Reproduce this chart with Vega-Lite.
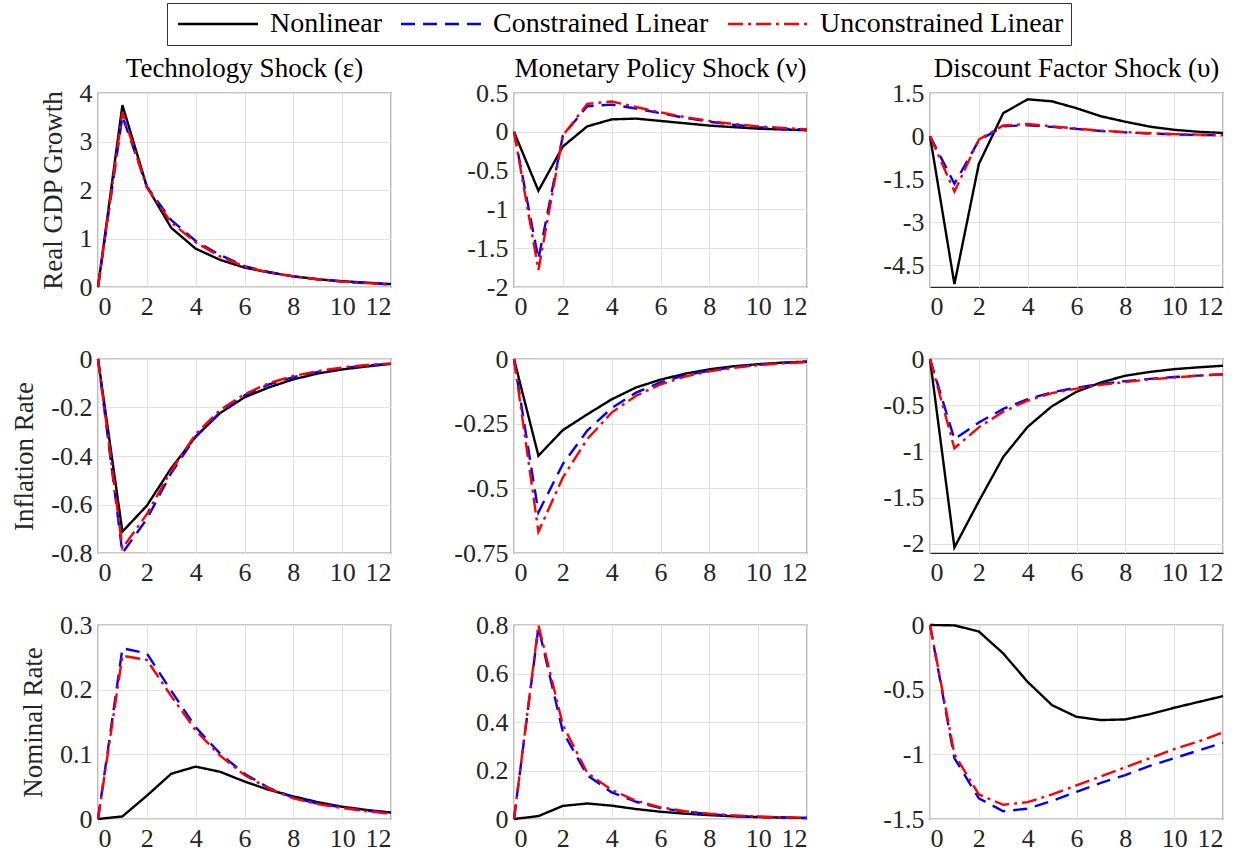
{
  "$schema": "https://vega.github.io/schema/vega-lite/v6.json",
  "background": "white",
  "padding": {"left": 10, "top": 2, "right": 10, "bottom": 5},
  "config": {
    "font": "Liberation Serif",
    "view": {"stroke": "#262626", "strokeWidth": 1.2},
    "axis": {"labelFont": "Liberation Serif", "labelFontSize": 26, "labelColor": "#262626", "titleFont": "Liberation Serif", "titleFontSize": 27, "titleFontWeight": "normal", "titleColor": "#262626", "gridColor": "#e2e2e2", "gridWidth": 1, "domain": false, "ticks": false, "labelPadding": 6, "titlePadding": 12},
    "title": {"font": "Liberation Serif", "fontSize": 27, "fontWeight": "normal", "color": "black", "offset": 7, "dy": 10, "frame": "group"},
    "line": {"strokeWidth": 2.4, "clip": true}
  },
  "datasets": {
    "gdp_tech": [
      {"model": "Nonlinear", "t": 0, "value": 0}, {"model": "Nonlinear", "t": 1, "value": 3.75}, {"model": "Nonlinear", "t": 2, "value": 2.07}, {"model": "Nonlinear", "t": 3, "value": 1.22}, {"model": "Nonlinear", "t": 4, "value": 0.79}, {"model": "Nonlinear", "t": 5, "value": 0.56}, {"model": "Nonlinear", "t": 6, "value": 0.4}, {"model": "Nonlinear", "t": 7, "value": 0.3}, {"model": "Nonlinear", "t": 8, "value": 0.22}, {"model": "Nonlinear", "t": 9, "value": 0.16}, {"model": "Nonlinear", "t": 10, "value": 0.12}, {"model": "Nonlinear", "t": 11, "value": 0.09}, {"model": "Nonlinear", "t": 12, "value": 0.06},
      {"model": "Constrained Linear", "t": 0, "value": 0}, {"model": "Constrained Linear", "t": 1, "value": 3.52}, {"model": "Constrained Linear", "t": 2, "value": 2.07}, {"model": "Constrained Linear", "t": 3, "value": 1.38}, {"model": "Constrained Linear", "t": 4, "value": 0.95}, {"model": "Constrained Linear", "t": 5, "value": 0.66}, {"model": "Constrained Linear", "t": 6, "value": 0.43}, {"model": "Constrained Linear", "t": 7, "value": 0.31}, {"model": "Constrained Linear", "t": 8, "value": 0.22}, {"model": "Constrained Linear", "t": 9, "value": 0.16}, {"model": "Constrained Linear", "t": 10, "value": 0.11}, {"model": "Constrained Linear", "t": 11, "value": 0.08}, {"model": "Constrained Linear", "t": 12, "value": 0.05},
      {"model": "Unconstrained Linear", "t": 0, "value": 0}, {"model": "Unconstrained Linear", "t": 1, "value": 3.6}, {"model": "Unconstrained Linear", "t": 2, "value": 2.05}, {"model": "Unconstrained Linear", "t": 3, "value": 1.33}, {"model": "Unconstrained Linear", "t": 4, "value": 0.92}, {"model": "Unconstrained Linear", "t": 5, "value": 0.63}, {"model": "Unconstrained Linear", "t": 6, "value": 0.42}, {"model": "Unconstrained Linear", "t": 7, "value": 0.3}, {"model": "Unconstrained Linear", "t": 8, "value": 0.22}, {"model": "Unconstrained Linear", "t": 9, "value": 0.16}, {"model": "Unconstrained Linear", "t": 10, "value": 0.11}, {"model": "Unconstrained Linear", "t": 11, "value": 0.08}, {"model": "Unconstrained Linear", "t": 12, "value": 0.05}
    ],
    "gdp_mon": [
      {"model": "Nonlinear", "t": 0, "value": 0}, {"model": "Nonlinear", "t": 1, "value": -0.76}, {"model": "Nonlinear", "t": 2, "value": -0.19}, {"model": "Nonlinear", "t": 3, "value": 0.07}, {"model": "Nonlinear", "t": 4, "value": 0.16}, {"model": "Nonlinear", "t": 5, "value": 0.17}, {"model": "Nonlinear", "t": 6, "value": 0.14}, {"model": "Nonlinear", "t": 7, "value": 0.11}, {"model": "Nonlinear", "t": 8, "value": 0.08}, {"model": "Nonlinear", "t": 9, "value": 0.06}, {"model": "Nonlinear", "t": 10, "value": 0.04}, {"model": "Nonlinear", "t": 11, "value": 0.03}, {"model": "Nonlinear", "t": 12, "value": 0.02},
      {"model": "Constrained Linear", "t": 0, "value": 0}, {"model": "Constrained Linear", "t": 1, "value": -1.64}, {"model": "Constrained Linear", "t": 2, "value": -0.05}, {"model": "Constrained Linear", "t": 3, "value": 0.33}, {"model": "Constrained Linear", "t": 4, "value": 0.35}, {"model": "Constrained Linear", "t": 5, "value": 0.3}, {"model": "Constrained Linear", "t": 6, "value": 0.24}, {"model": "Constrained Linear", "t": 7, "value": 0.18}, {"model": "Constrained Linear", "t": 8, "value": 0.13}, {"model": "Constrained Linear", "t": 9, "value": 0.09}, {"model": "Constrained Linear", "t": 10, "value": 0.06}, {"model": "Constrained Linear", "t": 11, "value": 0.04}, {"model": "Constrained Linear", "t": 12, "value": 0.03},
      {"model": "Unconstrained Linear", "t": 0, "value": 0}, {"model": "Unconstrained Linear", "t": 1, "value": -1.78}, {"model": "Unconstrained Linear", "t": 2, "value": -0.05}, {"model": "Unconstrained Linear", "t": 3, "value": 0.36}, {"model": "Unconstrained Linear", "t": 4, "value": 0.39}, {"model": "Unconstrained Linear", "t": 5, "value": 0.32}, {"model": "Unconstrained Linear", "t": 6, "value": 0.25}, {"model": "Unconstrained Linear", "t": 7, "value": 0.19}, {"model": "Unconstrained Linear", "t": 8, "value": 0.14}, {"model": "Unconstrained Linear", "t": 9, "value": 0.1}, {"model": "Unconstrained Linear", "t": 10, "value": 0.07}, {"model": "Unconstrained Linear", "t": 11, "value": 0.05}, {"model": "Unconstrained Linear", "t": 12, "value": 0.03}
    ],
    "gdp_disc": [
      {"model": "Nonlinear", "t": 0, "value": 0}, {"model": "Nonlinear", "t": 1, "value": -5.15}, {"model": "Nonlinear", "t": 2, "value": -0.97}, {"model": "Nonlinear", "t": 3, "value": 0.8}, {"model": "Nonlinear", "t": 4, "value": 1.28}, {"model": "Nonlinear", "t": 5, "value": 1.21}, {"model": "Nonlinear", "t": 6, "value": 0.97}, {"model": "Nonlinear", "t": 7, "value": 0.69}, {"model": "Nonlinear", "t": 8, "value": 0.5}, {"model": "Nonlinear", "t": 9, "value": 0.33}, {"model": "Nonlinear", "t": 10, "value": 0.22}, {"model": "Nonlinear", "t": 11, "value": 0.15}, {"model": "Nonlinear", "t": 12, "value": 0.11},
      {"model": "Constrained Linear", "t": 0, "value": 0}, {"model": "Constrained Linear", "t": 1, "value": -1.66}, {"model": "Constrained Linear", "t": 2, "value": -0.15}, {"model": "Constrained Linear", "t": 3, "value": 0.34}, {"model": "Constrained Linear", "t": 4, "value": 0.38}, {"model": "Constrained Linear", "t": 5, "value": 0.32}, {"model": "Constrained Linear", "t": 6, "value": 0.25}, {"model": "Constrained Linear", "t": 7, "value": 0.18}, {"model": "Constrained Linear", "t": 8, "value": 0.13}, {"model": "Constrained Linear", "t": 9, "value": 0.09}, {"model": "Constrained Linear", "t": 10, "value": 0.06}, {"model": "Constrained Linear", "t": 11, "value": 0.04}, {"model": "Constrained Linear", "t": 12, "value": 0.03},
      {"model": "Unconstrained Linear", "t": 0, "value": 0}, {"model": "Unconstrained Linear", "t": 1, "value": -1.93}, {"model": "Unconstrained Linear", "t": 2, "value": -0.12}, {"model": "Unconstrained Linear", "t": 3, "value": 0.37}, {"model": "Unconstrained Linear", "t": 4, "value": 0.42}, {"model": "Unconstrained Linear", "t": 5, "value": 0.34}, {"model": "Unconstrained Linear", "t": 6, "value": 0.26}, {"model": "Unconstrained Linear", "t": 7, "value": 0.19}, {"model": "Unconstrained Linear", "t": 8, "value": 0.14}, {"model": "Unconstrained Linear", "t": 9, "value": 0.1}, {"model": "Unconstrained Linear", "t": 10, "value": 0.07}, {"model": "Unconstrained Linear", "t": 11, "value": 0.05}, {"model": "Unconstrained Linear", "t": 12, "value": 0.03}
    ],
    "inf_tech": [
      {"model": "Nonlinear", "t": 0, "value": 0}, {"model": "Nonlinear", "t": 1, "value": -0.712}, {"model": "Nonlinear", "t": 2, "value": -0.605}, {"model": "Nonlinear", "t": 3, "value": -0.45}, {"model": "Nonlinear", "t": 4, "value": -0.32}, {"model": "Nonlinear", "t": 5, "value": -0.223}, {"model": "Nonlinear", "t": 6, "value": -0.158}, {"model": "Nonlinear", "t": 7, "value": -0.117}, {"model": "Nonlinear", "t": 8, "value": -0.084}, {"model": "Nonlinear", "t": 9, "value": -0.06}, {"model": "Nonlinear", "t": 10, "value": -0.043}, {"model": "Nonlinear", "t": 11, "value": -0.031}, {"model": "Nonlinear", "t": 12, "value": -0.02},
      {"model": "Constrained Linear", "t": 0, "value": 0}, {"model": "Constrained Linear", "t": 1, "value": -0.8}, {"model": "Constrained Linear", "t": 2, "value": -0.66}, {"model": "Constrained Linear", "t": 3, "value": -0.47}, {"model": "Constrained Linear", "t": 4, "value": -0.32}, {"model": "Constrained Linear", "t": 5, "value": -0.22}, {"model": "Constrained Linear", "t": 6, "value": -0.15}, {"model": "Constrained Linear", "t": 7, "value": -0.105}, {"model": "Constrained Linear", "t": 8, "value": -0.075}, {"model": "Constrained Linear", "t": 9, "value": -0.053}, {"model": "Constrained Linear", "t": 10, "value": -0.038}, {"model": "Constrained Linear", "t": 11, "value": -0.027}, {"model": "Constrained Linear", "t": 12, "value": -0.019},
      {"model": "Unconstrained Linear", "t": 0, "value": 0}, {"model": "Unconstrained Linear", "t": 1, "value": -0.78}, {"model": "Unconstrained Linear", "t": 2, "value": -0.64}, {"model": "Unconstrained Linear", "t": 3, "value": -0.46}, {"model": "Unconstrained Linear", "t": 4, "value": -0.31}, {"model": "Unconstrained Linear", "t": 5, "value": -0.21}, {"model": "Unconstrained Linear", "t": 6, "value": -0.145}, {"model": "Unconstrained Linear", "t": 7, "value": -0.1}, {"model": "Unconstrained Linear", "t": 8, "value": -0.07}, {"model": "Unconstrained Linear", "t": 9, "value": -0.05}, {"model": "Unconstrained Linear", "t": 10, "value": -0.035}, {"model": "Unconstrained Linear", "t": 11, "value": -0.025}, {"model": "Unconstrained Linear", "t": 12, "value": -0.018}
    ],
    "inf_mon": [
      {"model": "Nonlinear", "t": 0, "value": 0}, {"model": "Nonlinear", "t": 1, "value": -0.374}, {"model": "Nonlinear", "t": 2, "value": -0.275}, {"model": "Nonlinear", "t": 3, "value": -0.214}, {"model": "Nonlinear", "t": 4, "value": -0.156}, {"model": "Nonlinear", "t": 5, "value": -0.11}, {"model": "Nonlinear", "t": 6, "value": -0.08}, {"model": "Nonlinear", "t": 7, "value": -0.057}, {"model": "Nonlinear", "t": 8, "value": -0.04}, {"model": "Nonlinear", "t": 9, "value": -0.028}, {"model": "Nonlinear", "t": 10, "value": -0.02}, {"model": "Nonlinear", "t": 11, "value": -0.014}, {"model": "Nonlinear", "t": 12, "value": -0.01},
      {"model": "Constrained Linear", "t": 0, "value": 0}, {"model": "Constrained Linear", "t": 1, "value": -0.593}, {"model": "Constrained Linear", "t": 2, "value": -0.406}, {"model": "Constrained Linear", "t": 3, "value": -0.277}, {"model": "Constrained Linear", "t": 4, "value": -0.19}, {"model": "Constrained Linear", "t": 5, "value": -0.13}, {"model": "Constrained Linear", "t": 6, "value": -0.09}, {"model": "Constrained Linear", "t": 7, "value": -0.063}, {"model": "Constrained Linear", "t": 8, "value": -0.045}, {"model": "Constrained Linear", "t": 9, "value": -0.032}, {"model": "Constrained Linear", "t": 10, "value": -0.022}, {"model": "Constrained Linear", "t": 11, "value": -0.015}, {"model": "Constrained Linear", "t": 12, "value": -0.01},
      {"model": "Unconstrained Linear", "t": 0, "value": 0}, {"model": "Unconstrained Linear", "t": 1, "value": -0.668}, {"model": "Unconstrained Linear", "t": 2, "value": -0.458}, {"model": "Unconstrained Linear", "t": 3, "value": -0.31}, {"model": "Unconstrained Linear", "t": 4, "value": -0.207}, {"model": "Unconstrained Linear", "t": 5, "value": -0.142}, {"model": "Unconstrained Linear", "t": 6, "value": -0.098}, {"model": "Unconstrained Linear", "t": 7, "value": -0.068}, {"model": "Unconstrained Linear", "t": 8, "value": -0.048}, {"model": "Unconstrained Linear", "t": 9, "value": -0.034}, {"model": "Unconstrained Linear", "t": 10, "value": -0.024}, {"model": "Unconstrained Linear", "t": 11, "value": -0.017}, {"model": "Unconstrained Linear", "t": 12, "value": -0.012}
    ],
    "inf_disc": [
      {"model": "Nonlinear", "t": 0, "value": 0}, {"model": "Nonlinear", "t": 1, "value": -2.04}, {"model": "Nonlinear", "t": 2, "value": -1.54}, {"model": "Nonlinear", "t": 3, "value": -1.06}, {"model": "Nonlinear", "t": 4, "value": -0.734}, {"model": "Nonlinear", "t": 5, "value": -0.51}, {"model": "Nonlinear", "t": 6, "value": -0.355}, {"model": "Nonlinear", "t": 7, "value": -0.254}, {"model": "Nonlinear", "t": 8, "value": -0.181}, {"model": "Nonlinear", "t": 9, "value": -0.14}, {"model": "Nonlinear", "t": 10, "value": -0.11}, {"model": "Nonlinear", "t": 11, "value": -0.09}, {"model": "Nonlinear", "t": 12, "value": -0.073},
      {"model": "Constrained Linear", "t": 0, "value": 0}, {"model": "Constrained Linear", "t": 1, "value": -0.868}, {"model": "Constrained Linear", "t": 2, "value": -0.687}, {"model": "Constrained Linear", "t": 3, "value": -0.54}, {"model": "Constrained Linear", "t": 4, "value": -0.434}, {"model": "Constrained Linear", "t": 5, "value": -0.36}, {"model": "Constrained Linear", "t": 6, "value": -0.31}, {"model": "Constrained Linear", "t": 7, "value": -0.27}, {"model": "Constrained Linear", "t": 8, "value": -0.24}, {"model": "Constrained Linear", "t": 9, "value": -0.215}, {"model": "Constrained Linear", "t": 10, "value": -0.195}, {"model": "Constrained Linear", "t": 11, "value": -0.18}, {"model": "Constrained Linear", "t": 12, "value": -0.165},
      {"model": "Unconstrained Linear", "t": 0, "value": 0}, {"model": "Unconstrained Linear", "t": 1, "value": -0.966}, {"model": "Unconstrained Linear", "t": 2, "value": -0.74}, {"model": "Unconstrained Linear", "t": 3, "value": -0.57}, {"model": "Unconstrained Linear", "t": 4, "value": -0.45}, {"model": "Unconstrained Linear", "t": 5, "value": -0.37}, {"model": "Unconstrained Linear", "t": 6, "value": -0.32}, {"model": "Unconstrained Linear", "t": 7, "value": -0.28}, {"model": "Unconstrained Linear", "t": 8, "value": -0.25}, {"model": "Unconstrained Linear", "t": 9, "value": -0.22}, {"model": "Unconstrained Linear", "t": 10, "value": -0.2}, {"model": "Unconstrained Linear", "t": 11, "value": -0.18}, {"model": "Unconstrained Linear", "t": 12, "value": -0.165}
    ],
    "nom_tech": [
      {"model": "Nonlinear", "t": 0, "value": 0}, {"model": "Nonlinear", "t": 1, "value": 0.004}, {"model": "Nonlinear", "t": 2, "value": 0.036}, {"model": "Nonlinear", "t": 3, "value": 0.07}, {"model": "Nonlinear", "t": 4, "value": 0.081}, {"model": "Nonlinear", "t": 5, "value": 0.073}, {"model": "Nonlinear", "t": 6, "value": 0.058}, {"model": "Nonlinear", "t": 7, "value": 0.045}, {"model": "Nonlinear", "t": 8, "value": 0.035}, {"model": "Nonlinear", "t": 9, "value": 0.026}, {"model": "Nonlinear", "t": 10, "value": 0.019}, {"model": "Nonlinear", "t": 11, "value": 0.014}, {"model": "Nonlinear", "t": 12, "value": 0.01},
      {"model": "Constrained Linear", "t": 0, "value": 0}, {"model": "Constrained Linear", "t": 1, "value": 0.264}, {"model": "Constrained Linear", "t": 2, "value": 0.256}, {"model": "Constrained Linear", "t": 3, "value": 0.198}, {"model": "Constrained Linear", "t": 4, "value": 0.142}, {"model": "Constrained Linear", "t": 5, "value": 0.101}, {"model": "Constrained Linear", "t": 6, "value": 0.07}, {"model": "Constrained Linear", "t": 7, "value": 0.048}, {"model": "Constrained Linear", "t": 8, "value": 0.033}, {"model": "Constrained Linear", "t": 9, "value": 0.024}, {"model": "Constrained Linear", "t": 10, "value": 0.018}, {"model": "Constrained Linear", "t": 11, "value": 0.013}, {"model": "Constrained Linear", "t": 12, "value": 0.009},
      {"model": "Unconstrained Linear", "t": 0, "value": 0}, {"model": "Unconstrained Linear", "t": 1, "value": 0.2525}, {"model": "Unconstrained Linear", "t": 2, "value": 0.246}, {"model": "Unconstrained Linear", "t": 3, "value": 0.19}, {"model": "Unconstrained Linear", "t": 4, "value": 0.137}, {"model": "Unconstrained Linear", "t": 5, "value": 0.098}, {"model": "Unconstrained Linear", "t": 6, "value": 0.068}, {"model": "Unconstrained Linear", "t": 7, "value": 0.047}, {"model": "Unconstrained Linear", "t": 8, "value": 0.032}, {"model": "Unconstrained Linear", "t": 9, "value": 0.023}, {"model": "Unconstrained Linear", "t": 10, "value": 0.017}, {"model": "Unconstrained Linear", "t": 11, "value": 0.012}, {"model": "Unconstrained Linear", "t": 12, "value": 0.008}
    ],
    "nom_mon": [
      {"model": "Nonlinear", "t": 0, "value": 0}, {"model": "Nonlinear", "t": 1, "value": 0.012}, {"model": "Nonlinear", "t": 2, "value": 0.054}, {"model": "Nonlinear", "t": 3, "value": 0.064}, {"model": "Nonlinear", "t": 4, "value": 0.055}, {"model": "Nonlinear", "t": 5, "value": 0.041}, {"model": "Nonlinear", "t": 6, "value": 0.03}, {"model": "Nonlinear", "t": 7, "value": 0.022}, {"model": "Nonlinear", "t": 8, "value": 0.016}, {"model": "Nonlinear", "t": 9, "value": 0.011}, {"model": "Nonlinear", "t": 10, "value": 0.008}, {"model": "Nonlinear", "t": 11, "value": 0.006}, {"model": "Nonlinear", "t": 12, "value": 0.004},
      {"model": "Constrained Linear", "t": 0, "value": 0}, {"model": "Constrained Linear", "t": 1, "value": 0.79}, {"model": "Constrained Linear", "t": 2, "value": 0.36}, {"model": "Constrained Linear", "t": 3, "value": 0.18}, {"model": "Constrained Linear", "t": 4, "value": 0.11}, {"model": "Constrained Linear", "t": 5, "value": 0.071}, {"model": "Constrained Linear", "t": 6, "value": 0.045}, {"model": "Constrained Linear", "t": 7, "value": 0.03}, {"model": "Constrained Linear", "t": 8, "value": 0.02}, {"model": "Constrained Linear", "t": 9, "value": 0.013}, {"model": "Constrained Linear", "t": 10, "value": 0.009}, {"model": "Constrained Linear", "t": 11, "value": 0.006}, {"model": "Constrained Linear", "t": 12, "value": 0.004},
      {"model": "Unconstrained Linear", "t": 0, "value": 0}, {"model": "Unconstrained Linear", "t": 1, "value": 0.8}, {"model": "Unconstrained Linear", "t": 2, "value": 0.388}, {"model": "Unconstrained Linear", "t": 3, "value": 0.19}, {"model": "Unconstrained Linear", "t": 4, "value": 0.12}, {"model": "Unconstrained Linear", "t": 5, "value": 0.075}, {"model": "Unconstrained Linear", "t": 6, "value": 0.048}, {"model": "Unconstrained Linear", "t": 7, "value": 0.032}, {"model": "Unconstrained Linear", "t": 8, "value": 0.022}, {"model": "Unconstrained Linear", "t": 9, "value": 0.015}, {"model": "Unconstrained Linear", "t": 10, "value": 0.01}, {"model": "Unconstrained Linear", "t": 11, "value": 0.007}, {"model": "Unconstrained Linear", "t": 12, "value": 0.005}
    ],
    "nom_disc": [
      {"model": "Nonlinear", "t": 0, "value": 0}, {"model": "Nonlinear", "t": 1, "value": -0.003}, {"model": "Nonlinear", "t": 2, "value": -0.05}, {"model": "Nonlinear", "t": 3, "value": -0.22}, {"model": "Nonlinear", "t": 4, "value": -0.44}, {"model": "Nonlinear", "t": 5, "value": -0.62}, {"model": "Nonlinear", "t": 6, "value": -0.71}, {"model": "Nonlinear", "t": 7, "value": -0.735}, {"model": "Nonlinear", "t": 8, "value": -0.73}, {"model": "Nonlinear", "t": 9, "value": -0.69}, {"model": "Nonlinear", "t": 10, "value": -0.64}, {"model": "Nonlinear", "t": 11, "value": -0.595}, {"model": "Nonlinear", "t": 12, "value": -0.55},
      {"model": "Constrained Linear", "t": 0, "value": 0}, {"model": "Constrained Linear", "t": 1, "value": -1.03}, {"model": "Constrained Linear", "t": 2, "value": -1.34}, {"model": "Constrained Linear", "t": 3, "value": -1.44}, {"model": "Constrained Linear", "t": 4, "value": -1.42}, {"model": "Constrained Linear", "t": 5, "value": -1.36}, {"model": "Constrained Linear", "t": 6, "value": -1.29}, {"model": "Constrained Linear", "t": 7, "value": -1.22}, {"model": "Constrained Linear", "t": 8, "value": -1.16}, {"model": "Constrained Linear", "t": 9, "value": -1.09}, {"model": "Constrained Linear", "t": 10, "value": -1.03}, {"model": "Constrained Linear", "t": 11, "value": -0.97}, {"model": "Constrained Linear", "t": 12, "value": -0.91},
      {"model": "Unconstrained Linear", "t": 0, "value": 0}, {"model": "Unconstrained Linear", "t": 1, "value": -1.0}, {"model": "Unconstrained Linear", "t": 2, "value": -1.31}, {"model": "Unconstrained Linear", "t": 3, "value": -1.39}, {"model": "Unconstrained Linear", "t": 4, "value": -1.37}, {"model": "Unconstrained Linear", "t": 5, "value": -1.31}, {"model": "Unconstrained Linear", "t": 6, "value": -1.24}, {"model": "Unconstrained Linear", "t": 7, "value": -1.17}, {"model": "Unconstrained Linear", "t": 8, "value": -1.1}, {"model": "Unconstrained Linear", "t": 9, "value": -1.03}, {"model": "Unconstrained Linear", "t": 10, "value": -0.96}, {"model": "Unconstrained Linear", "t": 11, "value": -0.9}, {"model": "Unconstrained Linear", "t": 12, "value": -0.83}
    ]
  },
  "columns": 3,
  "spacing": {"row": 72, "column": 123},
  "bounds": "flush",
  "resolve": {"scale": {"x": "independent", "y": "independent", "color": "shared", "strokeDash": "shared"}},
  "concat": [
    {
      "width": 293, "height": 194,
      "title": "Technology Shock (ε)",
      "data": {"name": "gdp_tech"},
      "mark": {"type": "line"},
      "encoding": {
        "x": {"field": "t", "type": "quantitative", "scale": {"domain": [0, 12], "nice": false}, "axis": {"values": [0, 2, 4, 6, 8, 10, 12], "title": null}},
        "y": {"field": "value", "type": "quantitative", "scale": {"domain": [0, 4], "nice": false, "zero": false}, "axis": {"values": [0, 1, 2, 3, 4], "title": "Real GDP Growth", "labelExpr": "replace(format(datum.value, '~g'), '−', '-')"}},
        "color": {"field": "model", "type": "nominal", "scale": {"domain": ["Nonlinear", "Constrained Linear", "Unconstrained Linear"], "range": ["#000000", "#0000ff", "#ff0000"]}, "legend": {"title": null, "orient": "none", "legendX": 69, "legendY": -90, "direction": "horizontal", "columns": 3, "symbolType": "M-1,0H7", "symbolSize": 400, "symbolStrokeWidth": 2.5, "labelFont": "Liberation Serif", "labelFontSize": 28, "labelColor": "black", "labelLimit": 400, "labelOffset": 68, "columnPadding": 14, "padding": 7, "strokeColor": "#333333", "fillColor": "white"}},
        "strokeDash": {"field": "model", "type": "nominal", "scale": {"domain": ["Nonlinear", "Constrained Linear", "Unconstrained Linear"], "range": [[1, 0], [14, 8], [15, 5, 3, 5]]}, "legend": {"title": null, "orient": "none", "legendX": 69, "legendY": -90, "direction": "horizontal", "columns": 3, "symbolType": "M-1,0H7", "symbolSize": 400, "symbolStrokeWidth": 2.5, "labelFont": "Liberation Serif", "labelFontSize": 28, "labelColor": "black", "labelLimit": 400, "labelOffset": 68, "columnPadding": 14, "padding": 7, "strokeColor": "#333333", "fillColor": "white"}}
      }
    },
    {
      "width": 293, "height": 194,
      "title": "Monetary Policy Shock (ν)",
      "data": {"name": "gdp_mon"},
      "mark": {"type": "line"},
      "encoding": {
        "x": {"field": "t", "type": "quantitative", "scale": {"domain": [0, 12], "nice": false}, "axis": {"values": [0, 2, 4, 6, 8, 10, 12], "title": null}},
        "y": {"field": "value", "type": "quantitative", "scale": {"domain": [-2, 0.5], "nice": false, "zero": false}, "axis": {"values": [-2, -1.5, -1, -0.5, 0, 0.5], "title": null, "labelExpr": "replace(format(datum.value, '~g'), '−', '-')"}},
        "color": {"field": "model", "type": "nominal"},
        "strokeDash": {"field": "model", "type": "nominal"}
      }
    },
    {
      "width": 293, "height": 194,
      "title": "Discount Factor Shock (υ)",
      "data": {"name": "gdp_disc"},
      "mark": {"type": "line"},
      "encoding": {
        "x": {"field": "t", "type": "quantitative", "scale": {"domain": [0, 12], "nice": false}, "axis": {"values": [0, 2, 4, 6, 8, 10, 12], "title": null}},
        "y": {"field": "value", "type": "quantitative", "scale": {"domain": [-5.25, 1.5], "nice": false, "zero": false}, "axis": {"values": [-4.5, -3, -1.5, 0, 1.5], "title": null, "labelExpr": "replace(format(datum.value, '~g'), '−', '-')"}},
        "color": {"field": "model", "type": "nominal"},
        "strokeDash": {"field": "model", "type": "nominal"}
      }
    },
    {
      "width": 293, "height": 194,
      "data": {"name": "inf_tech"},
      "mark": {"type": "line"},
      "encoding": {
        "x": {"field": "t", "type": "quantitative", "scale": {"domain": [0, 12], "nice": false}, "axis": {"values": [0, 2, 4, 6, 8, 10, 12], "title": null}},
        "y": {"field": "value", "type": "quantitative", "scale": {"domain": [-0.8, 0], "nice": false, "zero": false}, "axis": {"values": [-0.8, -0.6, -0.4, -0.2, 0], "title": "Inflation Rate", "labelExpr": "replace(format(datum.value, '~g'), '−', '-')"}},
        "color": {"field": "model", "type": "nominal"},
        "strokeDash": {"field": "model", "type": "nominal"}
      }
    },
    {
      "width": 293, "height": 194,
      "data": {"name": "inf_mon"},
      "mark": {"type": "line"},
      "encoding": {
        "x": {"field": "t", "type": "quantitative", "scale": {"domain": [0, 12], "nice": false}, "axis": {"values": [0, 2, 4, 6, 8, 10, 12], "title": null}},
        "y": {"field": "value", "type": "quantitative", "scale": {"domain": [-0.75, 0], "nice": false, "zero": false}, "axis": {"values": [-0.75, -0.5, -0.25, 0], "title": null, "labelExpr": "replace(format(datum.value, '~g'), '−', '-')"}},
        "color": {"field": "model", "type": "nominal"},
        "strokeDash": {"field": "model", "type": "nominal"}
      }
    },
    {
      "width": 293, "height": 194,
      "data": {"name": "inf_disc"},
      "mark": {"type": "line"},
      "encoding": {
        "x": {"field": "t", "type": "quantitative", "scale": {"domain": [0, 12], "nice": false}, "axis": {"values": [0, 2, 4, 6, 8, 10, 12], "title": null}},
        "y": {"field": "value", "type": "quantitative", "scale": {"domain": [-2.1, 0], "nice": false, "zero": false}, "axis": {"values": [-2, -1.5, -1, -0.5, 0], "title": null, "labelExpr": "replace(format(datum.value, '~g'), '−', '-')"}},
        "color": {"field": "model", "type": "nominal"},
        "strokeDash": {"field": "model", "type": "nominal"}
      }
    },
    {
      "width": 293, "height": 194,
      "data": {"name": "nom_tech"},
      "mark": {"type": "line"},
      "encoding": {
        "x": {"field": "t", "type": "quantitative", "scale": {"domain": [0, 12], "nice": false}, "axis": {"values": [0, 2, 4, 6, 8, 10, 12], "title": null}},
        "y": {"field": "value", "type": "quantitative", "scale": {"domain": [0, 0.3], "nice": false, "zero": false}, "axis": {"values": [0, 0.1, 0.2, 0.3], "title": "Nominal Rate", "labelExpr": "replace(format(datum.value, '~g'), '−', '-')"}},
        "color": {"field": "model", "type": "nominal"},
        "strokeDash": {"field": "model", "type": "nominal"}
      }
    },
    {
      "width": 293, "height": 194,
      "data": {"name": "nom_mon"},
      "mark": {"type": "line"},
      "encoding": {
        "x": {"field": "t", "type": "quantitative", "scale": {"domain": [0, 12], "nice": false}, "axis": {"values": [0, 2, 4, 6, 8, 10, 12], "title": null}},
        "y": {"field": "value", "type": "quantitative", "scale": {"domain": [0, 0.8], "nice": false, "zero": false}, "axis": {"values": [0, 0.2, 0.4, 0.6, 0.8], "title": null, "labelExpr": "replace(format(datum.value, '~g'), '−', '-')"}},
        "color": {"field": "model", "type": "nominal"},
        "strokeDash": {"field": "model", "type": "nominal"}
      }
    },
    {
      "width": 293, "height": 194,
      "data": {"name": "nom_disc"},
      "mark": {"type": "line"},
      "encoding": {
        "x": {"field": "t", "type": "quantitative", "scale": {"domain": [0, 12], "nice": false}, "axis": {"values": [0, 2, 4, 6, 8, 10, 12], "title": null}},
        "y": {"field": "value", "type": "quantitative", "scale": {"domain": [-1.5, 0], "nice": false, "zero": false}, "axis": {"values": [-1.5, -1, -0.5, 0], "title": null, "labelExpr": "replace(format(datum.value, '~g'), '−', '-')"}},
        "color": {"field": "model", "type": "nominal"},
        "strokeDash": {"field": "model", "type": "nominal"}
      }
    }
  ]
}
